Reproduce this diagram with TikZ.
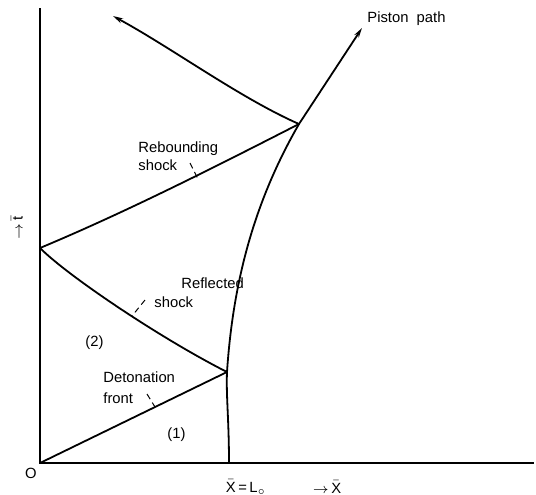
\documentclass[tikz,border=0pt]{standalone}
\usepackage{fontspec}
\setmainfont{Liberation Sans}
\usetikzlibrary{arrows.meta, positioning}
\newcommand{\xbar}{$\bar{\mbox{X}}$}
\newcommand{\tbar}{$\bar{\mbox{t}}$}

\begin{document}
\begin{tikzpicture}[x=0.5pt, y=-0.5pt,
  wave/.style={line width=0.9pt},
  axis/.style={line width=0.7pt},
  lead/.style={densely dashed, line width=0.5pt},
  lbl/.style={font=\fontsize{7.4}{9}\selectfont, inner sep=0pt, align=left},
  tip/.style={-{Stealth[length=5pt, width=2.6pt]}}
]
  \useasboundingbox (0,0) rectangle (536,494);

  \coordinate (O) at (40,463);
  \coordinate (tend) at (40,8);
  \coordinate (xend) at (534,463);
  \coordinate (P0) at (229,463);
  \coordinate (A) at (227,372);
  \coordinate (B) at (40,248);
  \coordinate (C) at (299,124);
  \coordinate (Ptip) at (362,28);
  \coordinate (Wtip) at (113,16);

  \draw[axis] (tend) -- (O) -- (xend);

  \draw[wave] (O) -- (A);
  \draw[wave] (A) .. controls (160,338) and (68,276) .. (B);
  \draw[wave] (B) .. controls (126,212) and (213,168) .. (C);
  \draw[wave, tip] (C) .. controls (240,98) and (172,48) .. (Wtip);
  \draw[wave, tip] (P0) .. controls (229,420) and (226,395) .. (A)
    .. controls (233,282) and (254,202) .. (C) -- (Ptip);

  \node[lbl, anchor=west] (piston) at (367,19) {Piston~~path};
  \node[lbl, anchor=west] (rebound) at (138,156) {Rebounding\\shock};
  \node[lbl, anchor=west] (reflA) at (181,283) {Reflected};
  \node[lbl, anchor=west] (reflB) at (154,302) {shock};
  \node[lbl, anchor=west] (deton) at (103,388) {Detonation\\[1.5pt]front};
  \node[lbl, anchor=west] (reg2) at (85,343) {(2)};
  \node[lbl, anchor=west] (reg1) at (167,435) {(1)};
  \node[lbl] (orig) at (31,473) {O};
  \node[lbl] (xlo) at (246,487) {\xbar\,=\,L$_\circ$};
  \node[lbl] (xlab) at (327,487) {$\rightarrow$\,\xbar};
  \node[lbl, rotate=90] (tlab) at (17,228) {$\rightarrow$\,\tbar};

  \coordinate (rbA) at (190,163);
  \coordinate (rbB) at (198,179);
  \coordinate (rfA) at (145,300);
  \coordinate (rfB) at (132,316);
  \coordinate (dtA) at (147,394);
  \coordinate (dtB) at (155,407);
  \draw[lead] (rbA) -- (rbB);
  \draw[lead] (rfA) -- (rfB);
  \draw[lead] (dtA) -- (dtB);
\end{tikzpicture}
\end{document}
